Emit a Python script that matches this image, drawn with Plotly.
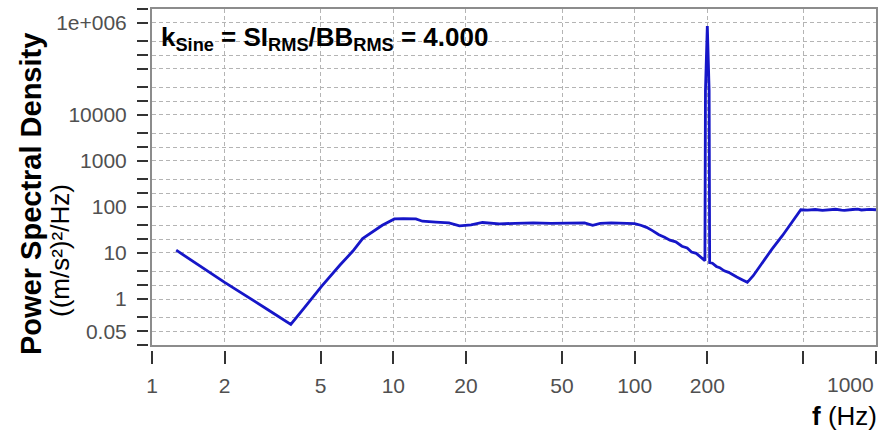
import math
import plotly.graph_objects as go

# PSD profile: broadband random with a sine tone at 200 Hz
freq_hz = [1.26, 2.0, 3.0, 3.76, 4.3, 5.05, 6.0, 6.8, 7.46, 8.2, 9.0, 10.1, 11.0, 12.4,
           13.2, 15.0, 17.0, 18.8, 21.0, 23.4, 27.5, 32.0, 38.0, 45.0, 55.0, 62.0,
           67.0, 72.0, 80.0, 90.0, 100.0, 106.0, 112.0, 118.0, 126.0, 133.0, 140.0,
           148.0, 157.0, 165.0, 172.0, 180.0, 185.0, 192.0, 195.5, 196.5, 200.0,
           203.5, 204.5, 210.0, 218.0, 225.0, 235.0, 245.0, 255.0, 265.0, 280.0,
           293.0, 310.0, 340.0, 370.0, 410.0, 450.0, 488.0, 520.0, 560.0, 600.0,
           620.0, 680.0, 720.0, 740.0, 800.0, 840.0, 870.0, 940.0, 1000.0]
psd = [11.5, 2.3, 0.6, 0.28, 0.67, 1.9, 5.4, 11.0, 20.6, 29.0, 40.0, 55.0, 56.0, 55.0,
       49.0, 47.0, 45.0, 39.0, 41.0, 46.0, 43.0, 44.0, 45.0, 44.0, 44.0, 45.0,
       40.0, 44.0, 45.0, 44.0, 43.5, 40.0, 36.0, 31.0, 25.0, 22.0, 19.0,
       17.5, 14.0, 12.8, 10.5, 9.8, 8.6, 7.5, 6.8, 3.4e4, 8.5e5,
       3.4e4, 6.2, 6.0, 5.1, 4.8, 4.1, 3.8, 3.3, 3.0, 2.6,
       2.3, 3.2, 6.5, 12.0, 24.0, 47.0, 87.0, 85.0, 88.0, 84.0,
       86.0, 89.0, 85.0, 84.0, 88.0, 90.0, 86.0, 89.0, 87.0]

x_label_vals = [1, 2, 5, 10, 20, 50, 100, 200]
x_label_text = ["1", "2", "5", "10", "20", "50", "100", "200"]
x_extra_ticks = [500, 1000]
x_grid_vals = [2, 5, 10, 20, 50, 100, 200, 500]

y_label_vals = [0.2, 1, 10, 100, 1e3, 1e4, 1e6]
y_label_text = ["0.05", "1", "10", "100", "1000", "10000", "1e+006"]
y_extra_ticks = [0.1, 0.4, 2, 4, 20, 40, 200, 400, 2e3, 4e3, 2e4, 4e4, 1e5, 2e5,
                 4e5, 2e6]
y_grid_vals = sorted(y_label_vals + y_extra_ticks)

FONT = "Arial, Liberation Sans, sans-serif"
TICK_FONT = dict(size=21, color="#505050", family=FONT)
GRID = dict(showgrid=True, gridcolor="#b4b4b4", gridwidth=1, griddash="4px,3px")
FRAME = dict(showline=True, mirror=True, linecolor="#8c8c8c", linewidth=1.5, zeroline=False)

W, H = 885, 431
ML, MR, MT, MB = 148, 8, 7, 81
pw, ph = W - ML - MR, H - MT - MB

fig = go.Figure()
fig.add_trace(go.Scatter(x=freq_hz, y=psd, mode="lines",
                         line=dict(color="#1616c8", width=2.8),
                         showlegend=False, hoverinfo="skip"))
# invisible copy so the offset tick axes are drawn
fig.add_trace(go.Scatter(x=freq_hz, y=psd, mode="lines", xaxis="x2", yaxis="y2",
                         line=dict(width=0), opacity=0, showlegend=False, hoverinfo="skip"))

x_range = [0, 3]
y_range = [-1, math.log10(2e6)]

fig.update_layout(
    width=W, height=H,
    margin=dict(l=ML, r=MR, t=MT, b=MB),
    paper_bgcolor="white", plot_bgcolor="white",
    font=dict(family=FONT),
    xaxis=dict(type="log", range=x_range, domain=[4 / pw, 1],
               tickvals=x_grid_vals, ticks="", showticklabels=False, **GRID, **FRAME),
    yaxis=dict(type="log", range=y_range, domain=[5 / ph, 1],
               tickvals=y_grid_vals, ticks="", showticklabels=False, **GRID, **FRAME),
    xaxis2=dict(type="log", range=x_range, overlaying="x", anchor="free", position=0,
                tickmode="array", tickvals=x_label_vals, ticktext=x_label_text,
                ticks="outside", ticklen=13, tickwidth=1.5, tickcolor="#333333",
                minor=dict(tickmode="array", tickvals=x_extra_ticks, ticks="outside",
                           ticklen=13, tickwidth=1.5, tickcolor="#333333", showgrid=False),
                showgrid=False, showline=False, zeroline=False, ticklabelstandoff=4,
                tickfont=TICK_FONT),
    yaxis2=dict(type="log", range=y_range, overlaying="y", anchor="free", position=0,
                tickmode="array", tickvals=y_label_vals, ticktext=y_label_text,
                ticks="outside", ticklen=11, tickwidth=2.2, tickcolor="#333333",
                minor=dict(tickmode="array", tickvals=y_extra_ticks, ticks="outside",
                           ticklen=11, tickwidth=2.2, tickcolor="#333333", showgrid=False),
                showgrid=False, showline=False, zeroline=False, ticklabelstandoff=6,
                tickfont=TICK_FONT),
)

fig.add_annotation(text="1000", xref="paper", yref="paper", x=1, y=0,
                   xanchor="right", yanchor="top", yshift=-21, showarrow=False,
                   font=TICK_FONT)
fig.add_annotation(text="<b>f</b> (Hz)", xref="paper", yref="paper", x=1.004, y=0,
                   xanchor="right", yanchor="middle", yshift=-66, showarrow=False,
                   font=dict(size=26, color="black", family=FONT))
fig.add_annotation(text="<b>Power Spectral Density</b>", xref="paper", yref="paper",
                   x=0, y=1, xshift=-117, yshift=-185, textangle=-90,
                   xanchor="center", yanchor="middle", showarrow=False,
                   font=dict(size=29, color="black", family=FONT))
fig.add_annotation(text="((m/s²)²/Hz)", xref="paper", yref="paper",
                   x=0, y=1, xshift=-88, yshift=-242, textangle=-90,
                   xanchor="center", yanchor="middle", showarrow=False,
                   font=dict(size=26, color="black", family=FONT))
fig.add_annotation(text="<b>k<sub>Sine</sub> = SI<sub>RMS</sub>/BB<sub>RMS</sub> = 4.000</b>",
                   xref="paper", yref="paper", x=0, y=1, xshift=11, yshift=-29,
                   xanchor="left", yanchor="middle", showarrow=False,
                   font=dict(size=26, color="black", family=FONT))

fig.write_html("out.html")
